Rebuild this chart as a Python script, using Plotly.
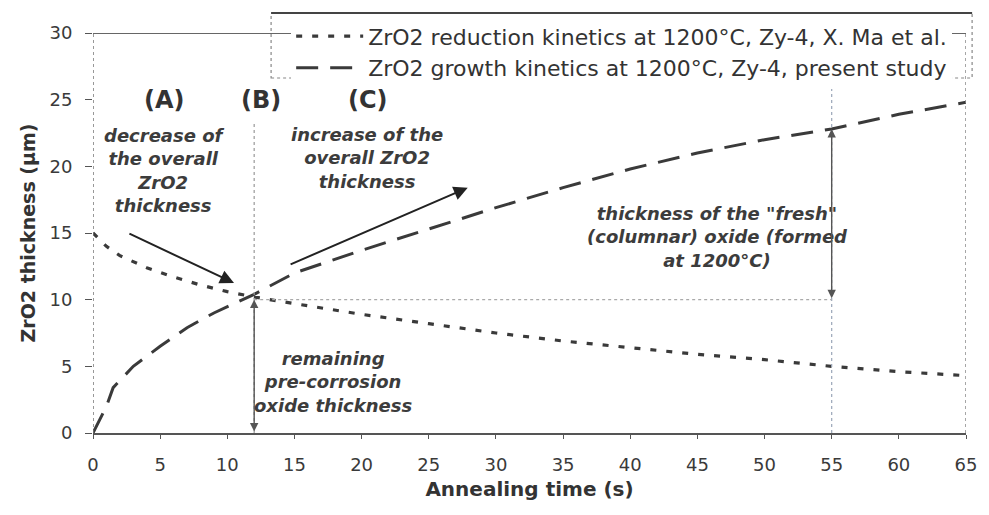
import plotly.graph_objects as go

# ZrO2 reduction kinetics at 1200 °C (X. Ma et al.)
red_t = [0, 1, 2, 4, 6, 8, 10, 12, 15, 20, 25, 30, 35, 40, 45, 50, 55, 60, 65]
red_thk = [15.0, 14.0, 13.3, 12.4, 11.7, 11.1, 10.6, 10.2, 9.7, 8.9, 8.2, 7.5, 6.9,
           6.4, 5.9, 5.5, 5.0, 4.6, 4.3]

# ZrO2 growth kinetics at 1200 °C (present study)
gro_t = [0, 1, 1.5, 3, 5, 7, 9, 11, 12, 15, 20, 25, 30, 35, 40, 45, 50, 55, 60, 65]
gro_thk = [0.0, 2.0, 3.4, 5.0, 6.5, 7.9, 9.0, 9.9, 10.4, 12.0, 13.7, 15.3, 16.9,
           18.4, 19.8, 21.0, 22.0, 22.8, 23.9, 24.8]

x_ticks = [0, 5, 10, 15, 20, 25, 30, 35, 40, 45, 50, 55, 60, 65]
y_ticks = [0, 5, 10, 15, 20, 25, 30]

legend_names = ["ZrO2 reduction kinetics at 1200°C, Zy-4, X. Ma et al.",
                "ZrO2 growth kinetics at 1200°C, Zy-4, present study"]

# characteristic times / levels
t_cross = 12          # end of stage (A)
t_fresh = 55          # time at which the fresh oxide is measured
level_cross = 10      # remaining pre-corrosion oxide thickness

FONT = "DejaVu Sans"
DARK = "#333333"
TXT = "#3c3c3c"

fig = go.Figure()
fig.add_trace(go.Scatter(x=red_t, y=red_thk, mode="lines", name=legend_names[0],
                         line=dict(color="#3a3a3a", width=3.2, dash="6px,10px")))
fig.add_trace(go.Scatter(x=gro_t, y=gro_thk, mode="lines", name=legend_names[1],
                         line=dict(color="#3a3a3a", width=3.0, dash="22px,12px")))

shapes = []
# left axis (dotted) and right border (dotted)
shapes.append(dict(type="line", xref="x", yref="y", x0=0, x1=0, y0=0, y1=30,
                   line=dict(color="#777", width=1.5, dash="dot")))
shapes.append(dict(type="line", xref="x", yref="y", x0=65, x1=65, y0=0, y1=30,
                   line=dict(color="#888", width=1.5, dash="dot")))
# top frame line
shapes.append(dict(type="line", xref="x", yref="y", x0=-0.4, x1=65, y0=30, y1=30,
                   line=dict(color="#666", width=2)))
# stage boundary at t_cross
shapes.append(dict(type="line", xref="x", yref="y", x0=t_cross, x1=t_cross, y0=0, y1=23.3,
                   line=dict(color="#999", width=1.2, dash="dot")))
# fresh-oxide time marker
shapes.append(dict(type="line", xref="x", yref="y", x0=t_fresh, x1=t_fresh, y0=0, y1=30,
                   line=dict(color="#9aa6b8", width=1.2, dash="dot")))
# remaining pre-corrosion level
shapes.append(dict(type="line", xref="x", yref="y", x0=t_cross, x1=t_fresh,
                   y0=level_cross, y1=level_cross,
                   line=dict(color="#aaa", width=1.2, dash="dot")))
# legend frame
shapes.append(dict(type="rect", xref="paper", yref="paper", x0=0.204, x1=1.007,
                   y0=0.8875, y1=1.05, line=dict(color="#888", width=1.2, dash="dot"),
                   fillcolor="rgba(0,0,0,0)", layer="above"))
shapes.append(dict(type="line", xref="paper", yref="paper", x0=0.204, x1=1.007,
                   y0=1.05, y1=1.05, line=dict(color="#444", width=2), layer="above"))

g55 = gro_thk[gro_t.index(t_fresh)]

annotations = []
for label, xp in [("(A)", 5.3), ("(B)", 12.5), ("(C)", 20.5)]:
    annotations.append(dict(x=xp, y=25.0, xref="x", yref="y", text=label, showarrow=False,
                            font=dict(family=FONT, size=24, color=DARK, weight="bold")))

def note(x, y, text, size=18):
    annotations.append(dict(x=x, y=y, xref="x", yref="y", text=text, showarrow=False,
                            align="center",
                            font=dict(family=FONT, size=size, color=TXT,
                                      weight="bold", style="italic")))

note(5.3, 19.7, "decrease of<br>the overall<br>ZrO2<br>thickness")
note(20.4, 20.6, "increase of the<br>overall ZrO2<br>thickness")
note(46.5, 14.7, "thickness of the \"fresh\"<br>(columnar) oxide (formed<br>at 1200°C)")
note(17.9, 3.8, "remaining<br>pre-corrosion<br>oxide thickness")

# pointer arrows
annotations.append(dict(x=10.5, y=11.25, ax=2.6, ay=15.0, xref="x", yref="y",
                        axref="x", ayref="y", text="", showarrow=True, arrowhead=2,
                        arrowsize=1.4, arrowwidth=2, arrowcolor="#222"))
annotations.append(dict(x=27.9, y=18.4, ax=14.6, ay=12.6, xref="x", yref="y",
                        axref="x", ayref="y", text="", showarrow=True, arrowhead=2,
                        arrowsize=1.4, arrowwidth=2, arrowcolor="#222"))
# double-headed thickness arrows
annotations.append(dict(x=t_cross, y=level_cross, ax=t_cross, ay=0, xref="x", yref="y",
                        axref="x", ayref="y", text="", showarrow=True, arrowhead=2,
                        startarrowhead=2, arrowside="end+start", arrowsize=1.2,
                        startarrowsize=1.2, arrowwidth=1.4, arrowcolor="#555"))
annotations.append(dict(x=t_fresh, y=g55, ax=t_fresh, ay=level_cross, xref="x", yref="y",
                        axref="x", ayref="y", text="", showarrow=True, arrowhead=2,
                        startarrowhead=2, arrowside="end+start", arrowsize=1.2,
                        startarrowsize=1.2, arrowwidth=1.4, arrowcolor="#555"))

fig.update_layout(
    width=989, height=515,
    margin=dict(l=93, r=19, t=33, b=82),
    paper_bgcolor="white", plot_bgcolor="white",
    font=dict(family=FONT, size=18, color=DARK),
    showlegend=True,
    legend=dict(x=0.227, y=1.044, xanchor="left", yanchor="top",
                bgcolor="white", borderwidth=0, itemwidth=67,
                font=dict(family=FONT, size=22, color=DARK)),
    shapes=shapes,
    annotations=annotations,
)
fig.update_xaxes(range=[0, 65], tickvals=x_ticks, showgrid=False, zeroline=False,
                 showline=True, linecolor="#555", linewidth=2,
                 ticks="outside", ticklen=4, tickcolor="#555", ticklabelstandoff=10,
                 tickfont=dict(size=18, color="#3a3a3a"),
                 title=dict(text="Annealing time (s)", standoff=8,
                            font=dict(size=20, color=DARK, weight="bold")))
fig.update_yaxes(range=[0, 30], tickvals=y_ticks, showgrid=False, zeroline=False,
                 showline=False, ticks="outside", ticklen=7, tickcolor="#555",
                 ticklabelstandoff=9, tickfont=dict(size=18, color="#3a3a3a"),
                 title=dict(text="ZrO2 thickness (µm)", standoff=8,
                            font=dict(size=19, color=DARK, weight="bold")))

fig.write_html("out.html")
